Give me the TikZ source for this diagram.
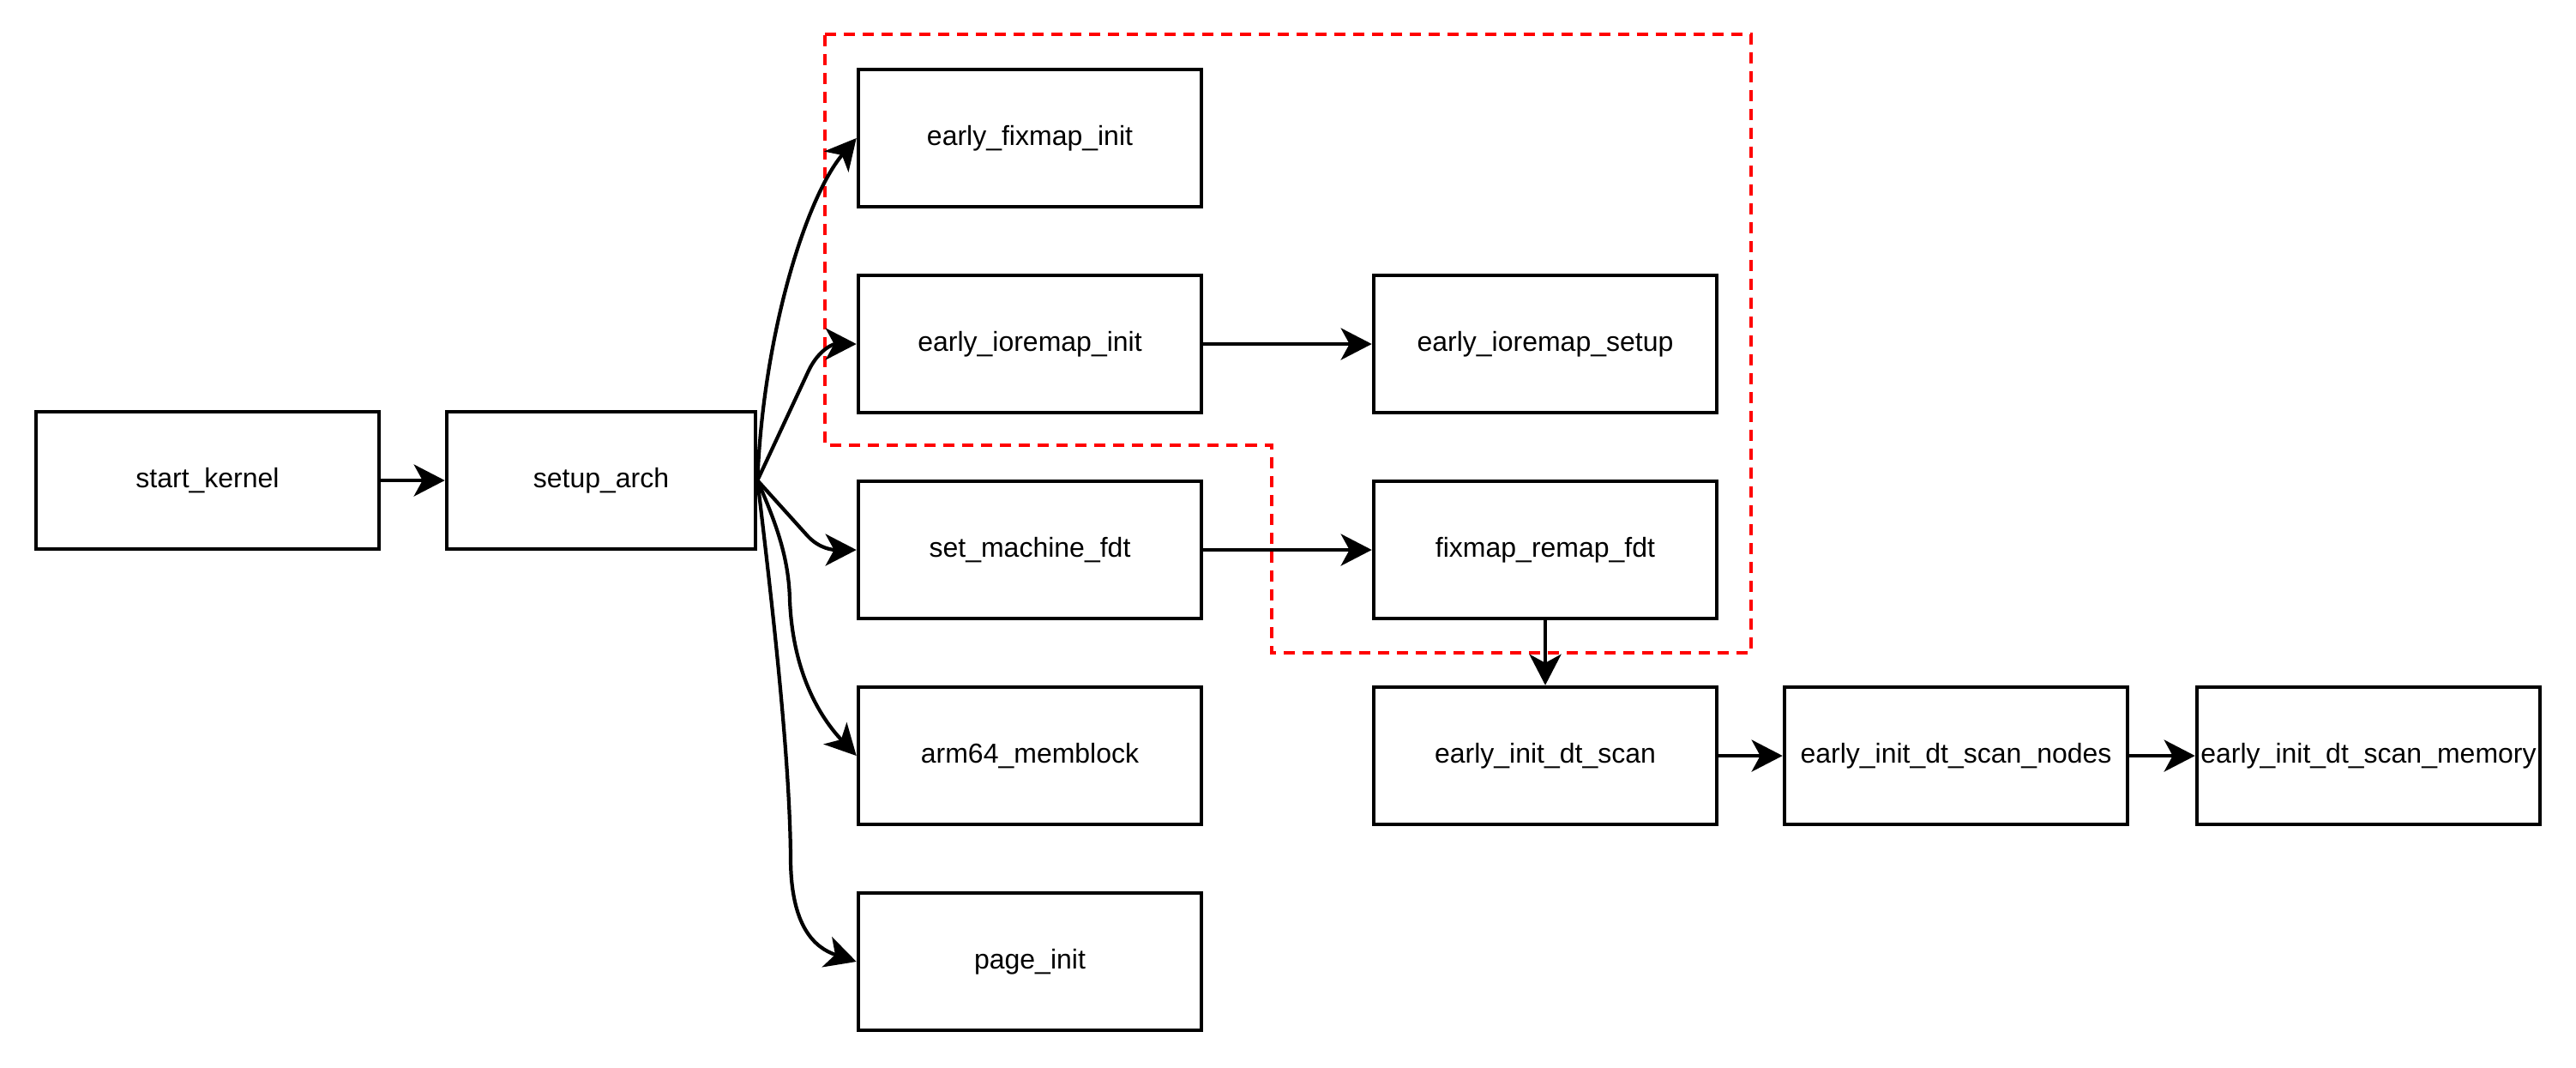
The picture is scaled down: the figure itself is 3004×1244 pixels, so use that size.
\documentclass[tikz,border=0pt]{standalone}
\usepackage{fontspec}
\setmainfont{Liberation Sans}
\usetikzlibrary{arrows.meta}
\begin{document}
\begin{tikzpicture}[x=0.01cm,y=-0.01cm,
  box/.style={draw=black,line width=1.25pt,minimum width=4cm,minimum height=1.6cm,inner sep=0pt,font=\fontsize{9.1pt}{11pt}\selectfont},
  conn/.style={line width=1.2pt,-{Stealth[length=0.36cm,width=0.37cm,inset=0.1cm]}},
  grp/.style={draw=red,line width=1.1pt,dash pattern=on 0.13cm off 0.09cm}]
\useasboundingbox (0,0) rectangle (3004,1244);
\node[box] (sk) at (242,560) {start\_kernel};
\node[box,minimum width=3.6cm] (sa) at (701,560) {setup\_arch};
\node[box] (fix) at (1201,161) {early\_fixmap\_init};
\node[box] (ioi) at (1201,401) {early\_ioremap\_init};
\node[box] (smf) at (1201,641) {set\_machine\_fdt};
\node[box] (mem) at (1201,881) {arm64\_memblock};
\node[box] (pg) at (1201,1121) {page\_init};
\node[box] (ios) at (1802,401) {early\_ioremap\_setup};
\node[box] (frf) at (1802,641) {fixmap\_remap\_fdt};
\node[box] (scan) at (1802,881) {early\_init\_dt\_scan};
\node[box] (nodes) at (2281,881) {early\_init\_dt\_scan\_nodes};
\node[box] (memo) at (2762,881) {early\_init\_dt\_scan\_memory};
\draw[grp] (962,40) -- (2042,40) -- (2042,761) -- (1483,761) -- (1483,519) -- (962,519) -- cycle;
\draw[conn] (sk.east) -- (sa.west);
\draw[conn] (sa.east) .. controls (890,390) and (940,230) .. (fix.west);
\draw[conn] (sa.east) -- (943,432) .. controls (955,407) and (972,401) .. (ioi.west);
\draw[conn] (sa.east) -- (942,625) .. controls (956,640) and (972,641) .. (smf.west);
\draw[conn] (sa.east) .. controls (905,610) and (920,650) .. (921,700) .. controls (925,790) and (960,840) .. (mem.west);
\draw[conn] (sa.east) .. controls (900,700) and (921,880) .. (922,1000) .. controls (922,1080) and (950,1105) .. (pg.west);
\draw[conn] (ioi.east) -- (ios.west);
\draw[conn] (smf.east) -- (frf.west);
\draw[conn] (frf.south) -- (scan.north);
\draw[conn] (scan.east) -- (nodes.west);
\draw[conn] (nodes.east) -- (memo.west);
\end{tikzpicture}
\end{document}
